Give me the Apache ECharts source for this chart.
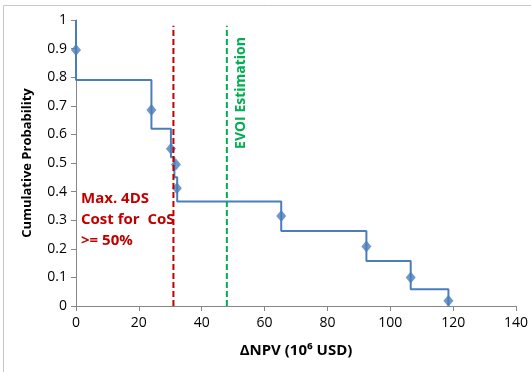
<!DOCTYPE html>
<html>
<head>
<meta charset="utf-8">
<script src="https://cdn.jsdelivr.net/npm/echarts@6/dist/echarts.min.js"></script>
<style>
  html, body { margin: 0; padding: 0; background: #fff; }
  #chart { width: 531px; height: 372px; }
</style>
</head>
<body>
<div id="chart"></div>
<script>
// step curve: drop positions and the level before / after each drop
var stepX = [0, 24, 30.2, 31.3, 32.2, 65.3, 92.4, 106.5, 118.5];
var stepLevels = [1, 0.79, 0.62, 0.52, 0.45, 0.365, 0.262, 0.157, 0.059, 0];

// diamond markers
var pointX = [0, 24, 30.2, 31.8, 32.1, 65.3, 92.4, 106.5, 118.5];
var pointY = [0.895, 0.685, 0.55, 0.495, 0.412, 0.315, 0.208, 0.1, 0.018];

// reference lines
var costLineX = 31;
var evoiLineX = 48;
var refTop = 0.98;

var font = 'Open Sans';

// build step vertices
var stepData = [];
for (var i = 0; i < stepX.length; i++) {
  stepData.push([stepX[i], stepLevels[i]]);
  stepData.push([stepX[i], stepLevels[i + 1]]);
}
var markerData = pointX.map(function(x, i) { return [x, pointY[i]]; });

var chart = echarts.init(document.getElementById('chart'));
var option = {
  animation: false,
  grid: { left: 76, right: 15, top: 20, bottom: 66 },
  graphic: [
    {
      type: 'polyline', silent: true,
      shape: { points: [[3.5, 372], [3.5, 5.5], [531, 5.5]] },
      style: { stroke: '#c8c8c8', lineWidth: 1, fill: null }
    },
    {
      type: 'text', left: 81, top: 188,
      style: {
        text: 'Max. 4DS\nCost for  CoS\n>= 50%',
        fill: '#c00000', font: 'bold 15px "' + font + '"', lineHeight: 21
      }
    },
    {
      type: 'text', x: 241, y: 93, rotation: Math.PI / 2,
      style: {
        text: 'EVOI Estimation', fill: '#00b050',
        font: 'bold 14px "' + font + '"', align: 'center', verticalAlign: 'middle'
      }
    }
  ],
  xAxis: {
    type: 'value', min: 0, max: 140, interval: 20,
    name: 'ΔNPV (10⁶ USD)', nameLocation: 'middle', nameGap: 37,
    nameTextStyle: { fontFamily: font, fontWeight: 'bold', fontSize: 15, color: '#000' },
    axisLine: { lineStyle: { color: '#868686' } },
    axisTick: { show: true, length: 5, lineStyle: { color: '#868686' } },
    axisLabel: { fontFamily: font, fontSize: 14, color: '#000', margin: 10 },
    splitLine: { show: false }
  },
  yAxis: {
    type: 'value', min: 0, max: 1, interval: 0.1,
    name: 'Cumulative Probability', nameLocation: 'middle', nameGap: 42,
    nameTextStyle: { fontFamily: font, fontWeight: 'bold', fontSize: 13, color: '#000' },
    axisLine: { show: true, lineStyle: { color: '#868686' } },
    axisTick: { show: true, length: 5, lineStyle: { color: '#868686' } },
    axisLabel: { fontFamily: font, fontSize: 14, color: '#000', margin: 9 },
    splitLine: { show: false }
  },
  series: [
    {
      type: 'line', data: stepData, symbol: 'none',
      lineStyle: { color: '#4a7ebb', width: 2 }, z: 3
    },
    {
      type: 'scatter', data: markerData, symbol: 'diamond', symbolSize: [10, 12],
      itemStyle: { color: '#4a7ebb' }, z: 4
    },
    {
      type: 'line', data: [[costLineX, 0], [costLineX, refTop]], symbol: 'none',
      lineStyle: { color: '#c00000', width: 2, type: [6, 3] }, z: 5
    },
    {
      type: 'line', data: [[evoiLineX, 0], [evoiLineX, refTop]], symbol: 'none',
      lineStyle: { color: '#00b050', width: 2, type: [6, 3] }, z: 5
    }
  ]
};
chart.setOption(option);
</script>
</body>
</html>
